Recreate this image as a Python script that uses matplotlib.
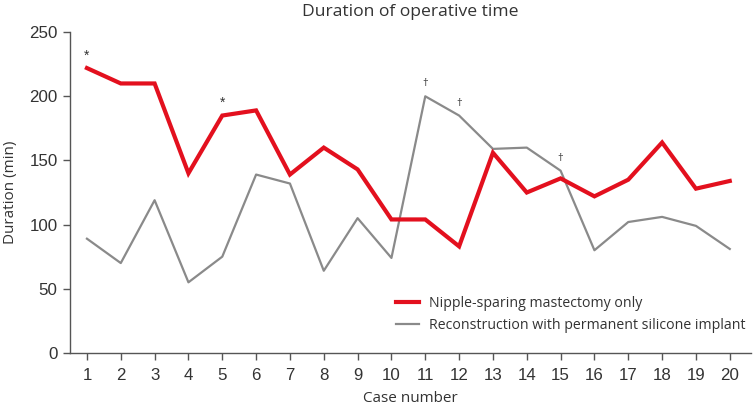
import matplotlib
matplotlib.use("Agg")
from matplotlib import pyplot as plt

cases = list(range(1, 21))
nsm_only = [222, 210, 210, 140, 185, 189, 139, 160, 143, 104,
            104, 83, 156, 125, 136, 122, 135, 164, 128, 134]
reconstruction = [89, 70, 119, 55, 75, 139, 132, 64, 105, 74,
                  200, 185, 159, 160, 142, 80, 102, 106, 99, 81]
star_cases = [1, 5]
dagger_cases = [11, 12, 15]

RED = "#e3101e"
GREY = "#8a8a8a"
TXT = "#333333"
title_font = ["Open Sans", "DejaVu Sans"]
tick_font = ["Liberation Sans", "DejaVu Sans"]

fig = plt.figure(figsize=(7.53, 4.07), dpi=100)
ax = fig.add_axes([0.093, 0.133, 0.904, 0.788])

ax.plot(cases, nsm_only, color=RED, lw=3.0, solid_joinstyle="miter",
        label="Nipple-sparing mastectomy only", zorder=3)
ax.plot(cases, reconstruction, color=GREY, lw=1.6,
        label="Reconstruction with permanent silicone implant", zorder=2)

# significance marks
for c in star_cases:
    ax.annotate("*", (c, nsm_only[c - 1]), xytext=(0, 4), textcoords="offset points",
                ha="center", va="bottom", fontsize=10, color=TXT, family=tick_font)
for c in dagger_cases:
    ax.annotate("\u2020", (c, reconstruction[c - 1]), xytext=(0, 5), textcoords="offset points",
                ha="center", va="bottom", fontsize=8, color=TXT, family=title_font)

ax.set_xlim(0.5, 20.62)
ax.set_ylim(0, 250)
ax.set_xticks(cases)
ax.set_yticks(range(0, 251, 50))
for lbl in ax.get_xticklabels() + ax.get_yticklabels():
    lbl.set_family(tick_font)
    lbl.set_fontsize(12.2)
    lbl.set_color(TXT)

for s in ["top", "right"]:
    ax.spines[s].set_visible(False)
for s in ["left", "bottom"]:
    ax.spines[s].set_color("#555555")
    ax.spines[s].set_linewidth(1.0)
ax.tick_params(axis="both", length=5, width=1.0, color="#555555")
ax.tick_params(axis="x", pad=6)
ax.tick_params(axis="y", pad=4)

ax.set_xlabel("Case number", family=title_font, fontsize=11, color=TXT, labelpad=6)
ax.set_ylabel("Duration (min)", family=title_font, fontsize=11, color=TXT, labelpad=8)
fig.suptitle("Duration of operative time", x=0.545, y=0.99, va="top",
             family=title_font, fontsize=12.6, color=TXT)

leg = ax.legend(loc="lower right", bbox_to_anchor=(1.0, 0.045), frameon=False,
                prop={"family": title_font, "size": 10.2}, handlelength=1.6,
                handletextpad=0.7, labelspacing=0.45, borderaxespad=0)
for t in leg.get_texts():
    t.set_color(TXT)

fig.savefig("out.png", dpi=100)
